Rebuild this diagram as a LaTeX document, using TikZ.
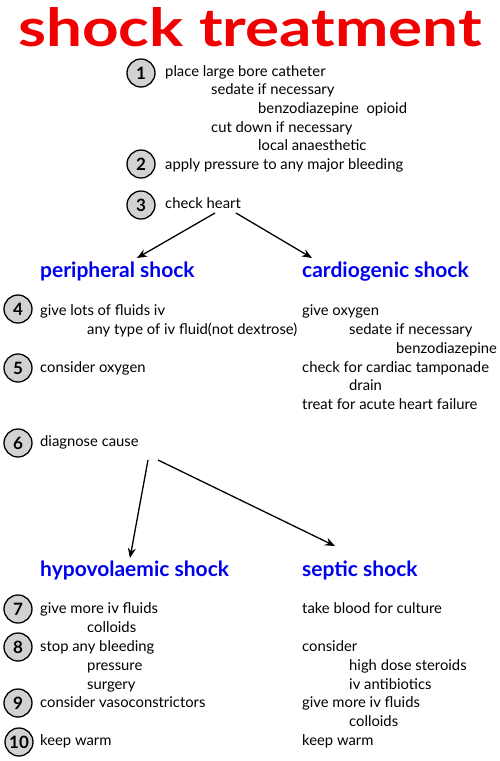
\documentclass[tikz,border=0pt]{standalone}
\usepackage{fontspec}
\setmainfont{Lato}
\usepackage{tikz}
\usetikzlibrary{arrows.meta, calc}
\definecolor{titlered}{RGB}{240,0,0}
\definecolor{headblue}{RGB}{0,0,240}
\definecolor{stepgray}{RGB}{210,210,210}
\tikzset{
  stepnum/.style={circle, draw=black, fill=stepgray, line width=1.3pt,
    minimum size=28pt, inner sep=0pt, font=\bfseries\fontsize{17}{17}\selectfont},
  txt/.style={anchor=base west, inner sep=0pt, font=\fontsize{14.8}{16}\selectfont},
  head/.style={anchor=base west, inner sep=0pt, text=headblue,
    font=\bfseries\fontsize{21}{22}\selectfont},
  arrow/.style={-{Stealth[length=10pt,width=8pt]}, line width=1.3pt}
}
\begin{document}
\begin{tikzpicture}[x=1pt, y=-1pt]
  \useasboundingbox (0,0) rectangle (500,761);
  % title
  \node[anchor=base, inner sep=0pt, text=titlered] (title) at (250,46)
    {\resizebox{464pt}{39pt}{\bfseries shock treatment}};

  % steps 1--3
  \node[stepnum] (s1) at (141,73) {1};
  \node[txt] (catheter) at (165,76) {place large bore catheter};
  \node[txt] (sedate1) at (211,94) {sedate if necessary};
  \node[txt] (benzo1) at (258,113) {benzodiazepine\ \ opioid};
  \node[txt] (cutdown) at (211,132) {cut down if necessary};
  \node[txt] (local) at (258,150) {local anaesthetic};
  \node[stepnum] (s2) at (141,164) {2};
  \node[txt] (pressure1) at (165,169) {apply pressure to any major bleeding};
  \node[stepnum] (s3) at (141,205) {3};
  \node[txt] (heart) at (165,208) {check heart};

  % first split
  \node[head] (peri) at (40,277) {peripheral shock};
  \node[head] (cardio) at (302,277) {cardiogenic shock};
  \draw[arrow] ($(heart.base west)+(50,5)$) -- ($(peri.base west)+(97,-19)$);
  \draw[arrow] ($(heart.base west)+(71,5)$) -- ($(cardio.base west)+(10,-19)$);

  % peripheral
  \node[stepnum] (s4) at (18,309) {4};
  \node[txt] (fluids) at (40,315) {give lots of fluids iv};
  \node[txt] (anytype) at (87,334) {any type of iv fluid(not dextrose)};
  \node[stepnum] (s5) at (18,368) {5};
  \node[txt] (oxy1) at (40,372) {consider oxygen};
  \node[stepnum] (s6) at (18,443) {6};
  \node[txt] (cause) at (40,446) {diagnose cause};

  % cardiogenic
  \node[txt] (oxy2) at (302,315) {give oxygen};
  \node[txt] (sedate2) at (349,334) {sedate if necessary};
  \node[txt] (benzo2) at (396,353) {benzodiazepine};
  \node[txt] (tamp) at (302,372) {check for cardiac tamponade};
  \node[txt] (drain) at (349,390) {drain};
  \node[txt] (failure) at (302,409) {treat for acute heart failure};

  % second split
  \node[head] (hypo) at (40,576) {hypovolaemic shock};
  \node[head] (septic) at (302,576) {septic shock};
  \draw[arrow] ($(cause.base west)+(108,14)$) -- ($(hypo.base west)+(90,-18)$);
  \draw[arrow] ($(cause.base west)+(118,14)$) -- ($(septic.base west)+(33,-30)$);

  % hypovolaemic
  \node[stepnum] (s7) at (18,609) {7};
  \node[txt] (more1) at (40,613) {give more iv fluids};
  \node[txt] (coll1) at (87,632) {colloids};
  \node[stepnum] (s8) at (18,647) {8};
  \node[txt] (bleed) at (40,651) {stop any bleeding};
  \node[txt] (pressure2) at (87,670) {pressure};
  \node[txt] (surgery) at (87,689) {surgery};
  \node[stepnum] (s9) at (18,703) {9};
  \node[txt] (vaso) at (40,707) {consider vasoconstrictors};
  \node[stepnum] (s10) at (19,742) {10};
  \node[txt] (warm1) at (40,745) {keep warm};

  % septic
  \node[txt] (culture) at (302,613) {take blood for culture};
  \node[txt] (consider) at (302,651) {consider};
  \node[txt] (steroids) at (349,670) {high dose steroids};
  \node[txt] (antib) at (349,689) {iv antibiotics};
  \node[txt] (more2) at (302,707) {give more iv fluids};
  \node[txt] (coll2) at (349,726) {colloids};
  \node[txt] (warm2) at (302,745) {keep warm};
\end{tikzpicture}
\end{document}
